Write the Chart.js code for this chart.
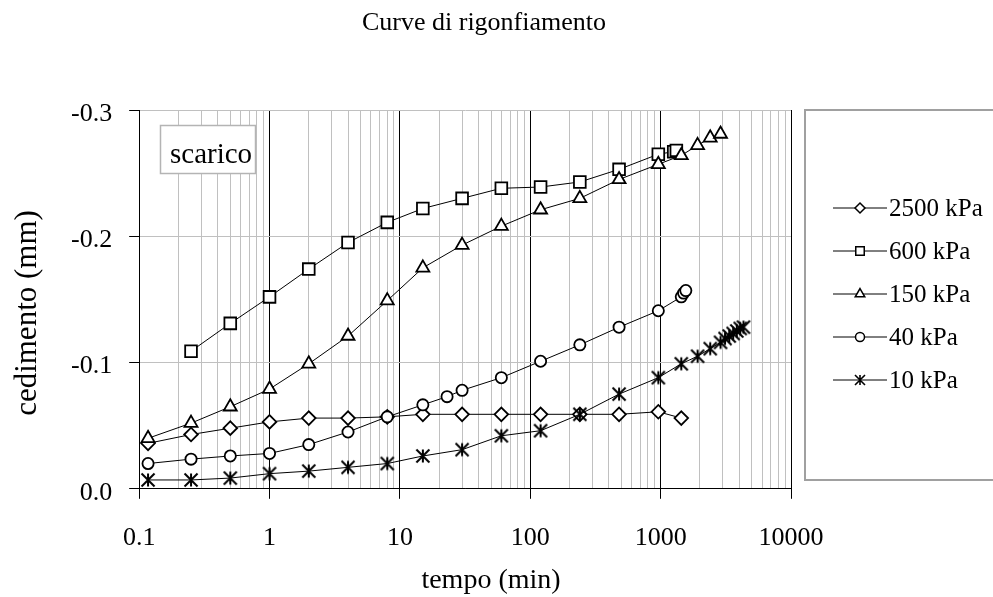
<!DOCTYPE html>
<html><head><meta charset="utf-8">
<script src="https://cdn.jsdelivr.net/npm/chart.js@4/dist/chart.umd.min.js"></script>
<style>html,body{margin:0;padding:0;background:#fff;}canvas{display:block;}</style>
</head><body>
<canvas id="c" width="993" height="597"></canvas>
<script>
// ---- data ----
const seriesLabels = ['2500 kPa', '600 kPa', '150 kPa', '40 kPa', '10 kPa'];

const t2500 = [0.117, 0.25, 0.5, 1, 2, 4, 8, 15, 30, 60, 120, 240, 480, 960, 1440];
const s2500 = [-0.036, -0.043, -0.048, -0.053, -0.056, -0.056, -0.057, -0.059, -0.059, -0.059, -0.059, -0.059, -0.059, -0.061, -0.056];

const t600 = [0.25, 0.5, 1, 2, 4, 8, 15, 30, 60, 120, 240, 480, 960, 1260, 1320];
const s600 = [-0.109, -0.131, -0.152, -0.174, -0.195, -0.211, -0.222, -0.230, -0.238, -0.239, -0.243, -0.253, -0.265, -0.267, -0.268];

const t150 = [0.117, 0.25, 0.5, 1, 2, 4, 8, 15, 30, 60, 120, 240, 480, 960, 1440, 1920, 2400, 2880];
const s150 = [-0.040, -0.052, -0.065, -0.079, -0.099, -0.121, -0.149, -0.175, -0.193, -0.208, -0.221, -0.230, -0.245, -0.257, -0.264, -0.272, -0.278, -0.281];

const t40 = [0.117, 0.25, 0.5, 1, 2, 4, 8, 15, 23, 30, 60, 120, 240, 480, 960, 1440, 1500, 1560];
const s40 = [-0.020, -0.0235, -0.026, -0.028, -0.035, -0.045, -0.057, -0.0665, -0.073, -0.078, -0.088, -0.101, -0.114, -0.128, -0.141, -0.152, -0.155, -0.157];

const t10 = [0.117, 0.25, 0.5, 1, 2, 4, 8, 15, 30, 60, 120, 240, 480, 960, 1440, 1920, 2400, 2880, 3120, 3360, 3600, 3840, 4080, 4320];
const s10 = [-0.007, -0.007, -0.0085, -0.012, -0.014, -0.017, -0.020, -0.026, -0.031, -0.042, -0.046, -0.059, -0.075, -0.088, -0.099, -0.105, -0.111, -0.116, -0.119, -0.121, -0.123, -0.125, -0.127, -0.128];

const xTickValues = [0.1, 1, 10, 100, 1000, 10000];
const yTickValues = [-0.3, -0.2, -0.1, 0.0];

const chartTitle = 'Curve di rigonfiamento';
const xTitle = 'tempo (min)';
const yTitle = 'cedimento (mm)';
const noteText = 'scarico';

// ---- styling ----
const SERIF = "'Liberation Serif', 'Times New Roman', Times, serif";
Chart.defaults.font.family = SERIF;
Chart.defaults.color = '#000';

function makeStar(size, half, lw) {
  const c = document.createElement('canvas');
  c.width = size; c.height = size;
  const g = c.getContext('2d');
  const m = size / 2;
  g.strokeStyle = '#000';
  g.lineWidth = lw;
  g.beginPath();
  g.moveTo(m, m - half); g.lineTo(m, m + half);
  g.moveTo(m - half, m - half); g.lineTo(m + half, m + half);
  g.moveTo(m + half, m - half); g.lineTo(m - half, m + half);
  g.stroke();
  return c;
}
const starBig = makeStar(18, 6.5, 2);
const starSmall = makeStar(14, 5, 1.6);

const decadeSet = new Set(xTickValues);
const xGrid = [];
for (let i = 0; i < xTickValues.length; i++) {
  xGrid.push(xTickValues[i]);
  if (i < xTickValues.length - 1) {
    for (let m = 2; m <= 9; m++) xGrid.push(parseFloat((xTickValues[i] * m).toPrecision(6)));
  }
}

const markerStyles = ['rectRot', 'rect', 'triangle', 'circle', starBig];
const markerRadii = [6.8, 8.3, 7.5, 5.6, 6.5];
const legendStyles = ['rectRot', 'rect', 'triangle', 'circle', starSmall];
const legendRadii = [5, 6, 5.5, 4.5, 5];

const times = [t2500, t600, t150, t40, t10];
const vals = [s2500, s600, s150, s40, s10];

const datasets = seriesLabels.map((lab, i) => ({
  label: lab,
  data: times[i].map((x, k) => ({ x: x, y: vals[i][k] })),
  borderColor: '#000',
  borderWidth: 1,
  backgroundColor: '#fff',
  pointStyle: markerStyles[i],
  pointRadius: markerRadii[i],
  pointBorderWidth: 1.8,
  pointBorderColor: '#000',
  pointBackgroundColor: '#fff',
  tension: 0,
  fill: false,
  order: 5 - i
}));

const textPlugin = {
  id: 'texts',
  afterDraw(chart) {
    const ctx = chart.ctx;
    ctx.save();
    ctx.fillStyle = '#000';
    ctx.textAlign = 'center';
    ctx.textBaseline = 'alphabetic';
    ctx.font = '26px ' + SERIF;
    ctx.fillText(chartTitle, 484, 30);
    ctx.font = '28px ' + SERIF;
    ctx.fillText(xTitle, 491, 588);
    ctx.save();
    ctx.translate(36, 313);
    ctx.rotate(-Math.PI / 2);
    ctx.font = '31px ' + SERIF;
    ctx.fillText(yTitle, 0, 0);
    ctx.restore();

    // "scarico" note box
    ctx.fillStyle = '#fff';
    ctx.fillRect(160, 125, 95, 48);
    ctx.strokeStyle = '#b4b4b4';
    ctx.lineWidth = 1.5;
    ctx.strokeRect(160.5, 125.5, 95, 48);
    ctx.fillStyle = '#000';
    ctx.textAlign = 'left';
    ctx.font = '29px ' + SERIF;
    ctx.fillText(noteText, 170, 163);

    // legend box
    ctx.strokeStyle = '#a0a0a0';
    ctx.lineWidth = 2;
    ctx.strokeRect(805, 110, 200, 370);
    ctx.font = '25px ' + SERIF;
    ctx.textBaseline = 'middle';
    chart.data.datasets.forEach((d, i) => {
      const y = 208 + i * 43;
      ctx.strokeStyle = '#000';
      ctx.lineWidth = 1;
      ctx.beginPath();
      ctx.moveTo(833, y); ctx.lineTo(887, y);
      ctx.stroke();
      ctx.fillStyle = '#fff';
      ctx.strokeStyle = '#000';
      ctx.lineWidth = 1.5;
      Chart.helpers.drawPoint(ctx, { pointStyle: legendStyles[i], radius: legendRadii[i], rotation: 0, borderWidth: 1.5 }, 860, y);
      ctx.fillStyle = '#000';
      ctx.fillText(d.label, 889, y + 1);
    });
    ctx.restore();
  }
};

new Chart(document.getElementById('c'), {
  type: 'line',
  data: { datasets: datasets },
  options: {
    responsive: false,
    animation: false,
    events: [],
    layout: { padding: { left: 54, top: 110, right: 202, bottom: 19 } },
    plugins: { legend: { display: false }, title: { display: false }, tooltip: { enabled: false } },
    scales: {
      x: {
        type: 'logarithmic',
        min: 0.1,
        max: 10000,
        afterBuildTicks: (s) => { s.ticks = xGrid.map(v => ({ value: v })); },
        ticks: {
          autoSkip: false, maxRotation: 0, minRotation: 0, padding: 24,
          color: '#000', font: { size: 26, family: SERIF },
          callback: (v) => decadeSet.has(v) ? String(v) : ''
        },
        grid: {
          color: (c) => (c.tick && decadeSet.has(c.tick.value)) ? '#000' : '#c0c0c0',
          lineWidth: 1,
          tickLength: 10,
          tickColor: (c) => (c.tick && decadeSet.has(c.tick.value)) ? '#000' : 'rgba(0,0,0,0)'
        },
        border: { color: '#000', width: 1 }
      },
      y: {
        type: 'linear',
        min: -0.3,
        max: 0,
        reverse: true,
        afterBuildTicks: (s) => { s.ticks = yTickValues.map(v => ({ value: v })); },
        ticks: {
          padding: 17, labelOffset: 4, color: '#000', font: { size: 26, family: SERIF },
          callback: (v) => Number(v).toFixed(1)
        },
        grid: {
          color: (c) => (c.tick && c.tick.value === 0) ? '#000' : '#c0c0c0',
          lineWidth: 1,
          tickLength: 10,
          tickColor: '#000'
        },
        border: { color: '#000', width: 1 }
      }
    }
  },
  plugins: [textPlugin]
});
</script>
</body></html>
